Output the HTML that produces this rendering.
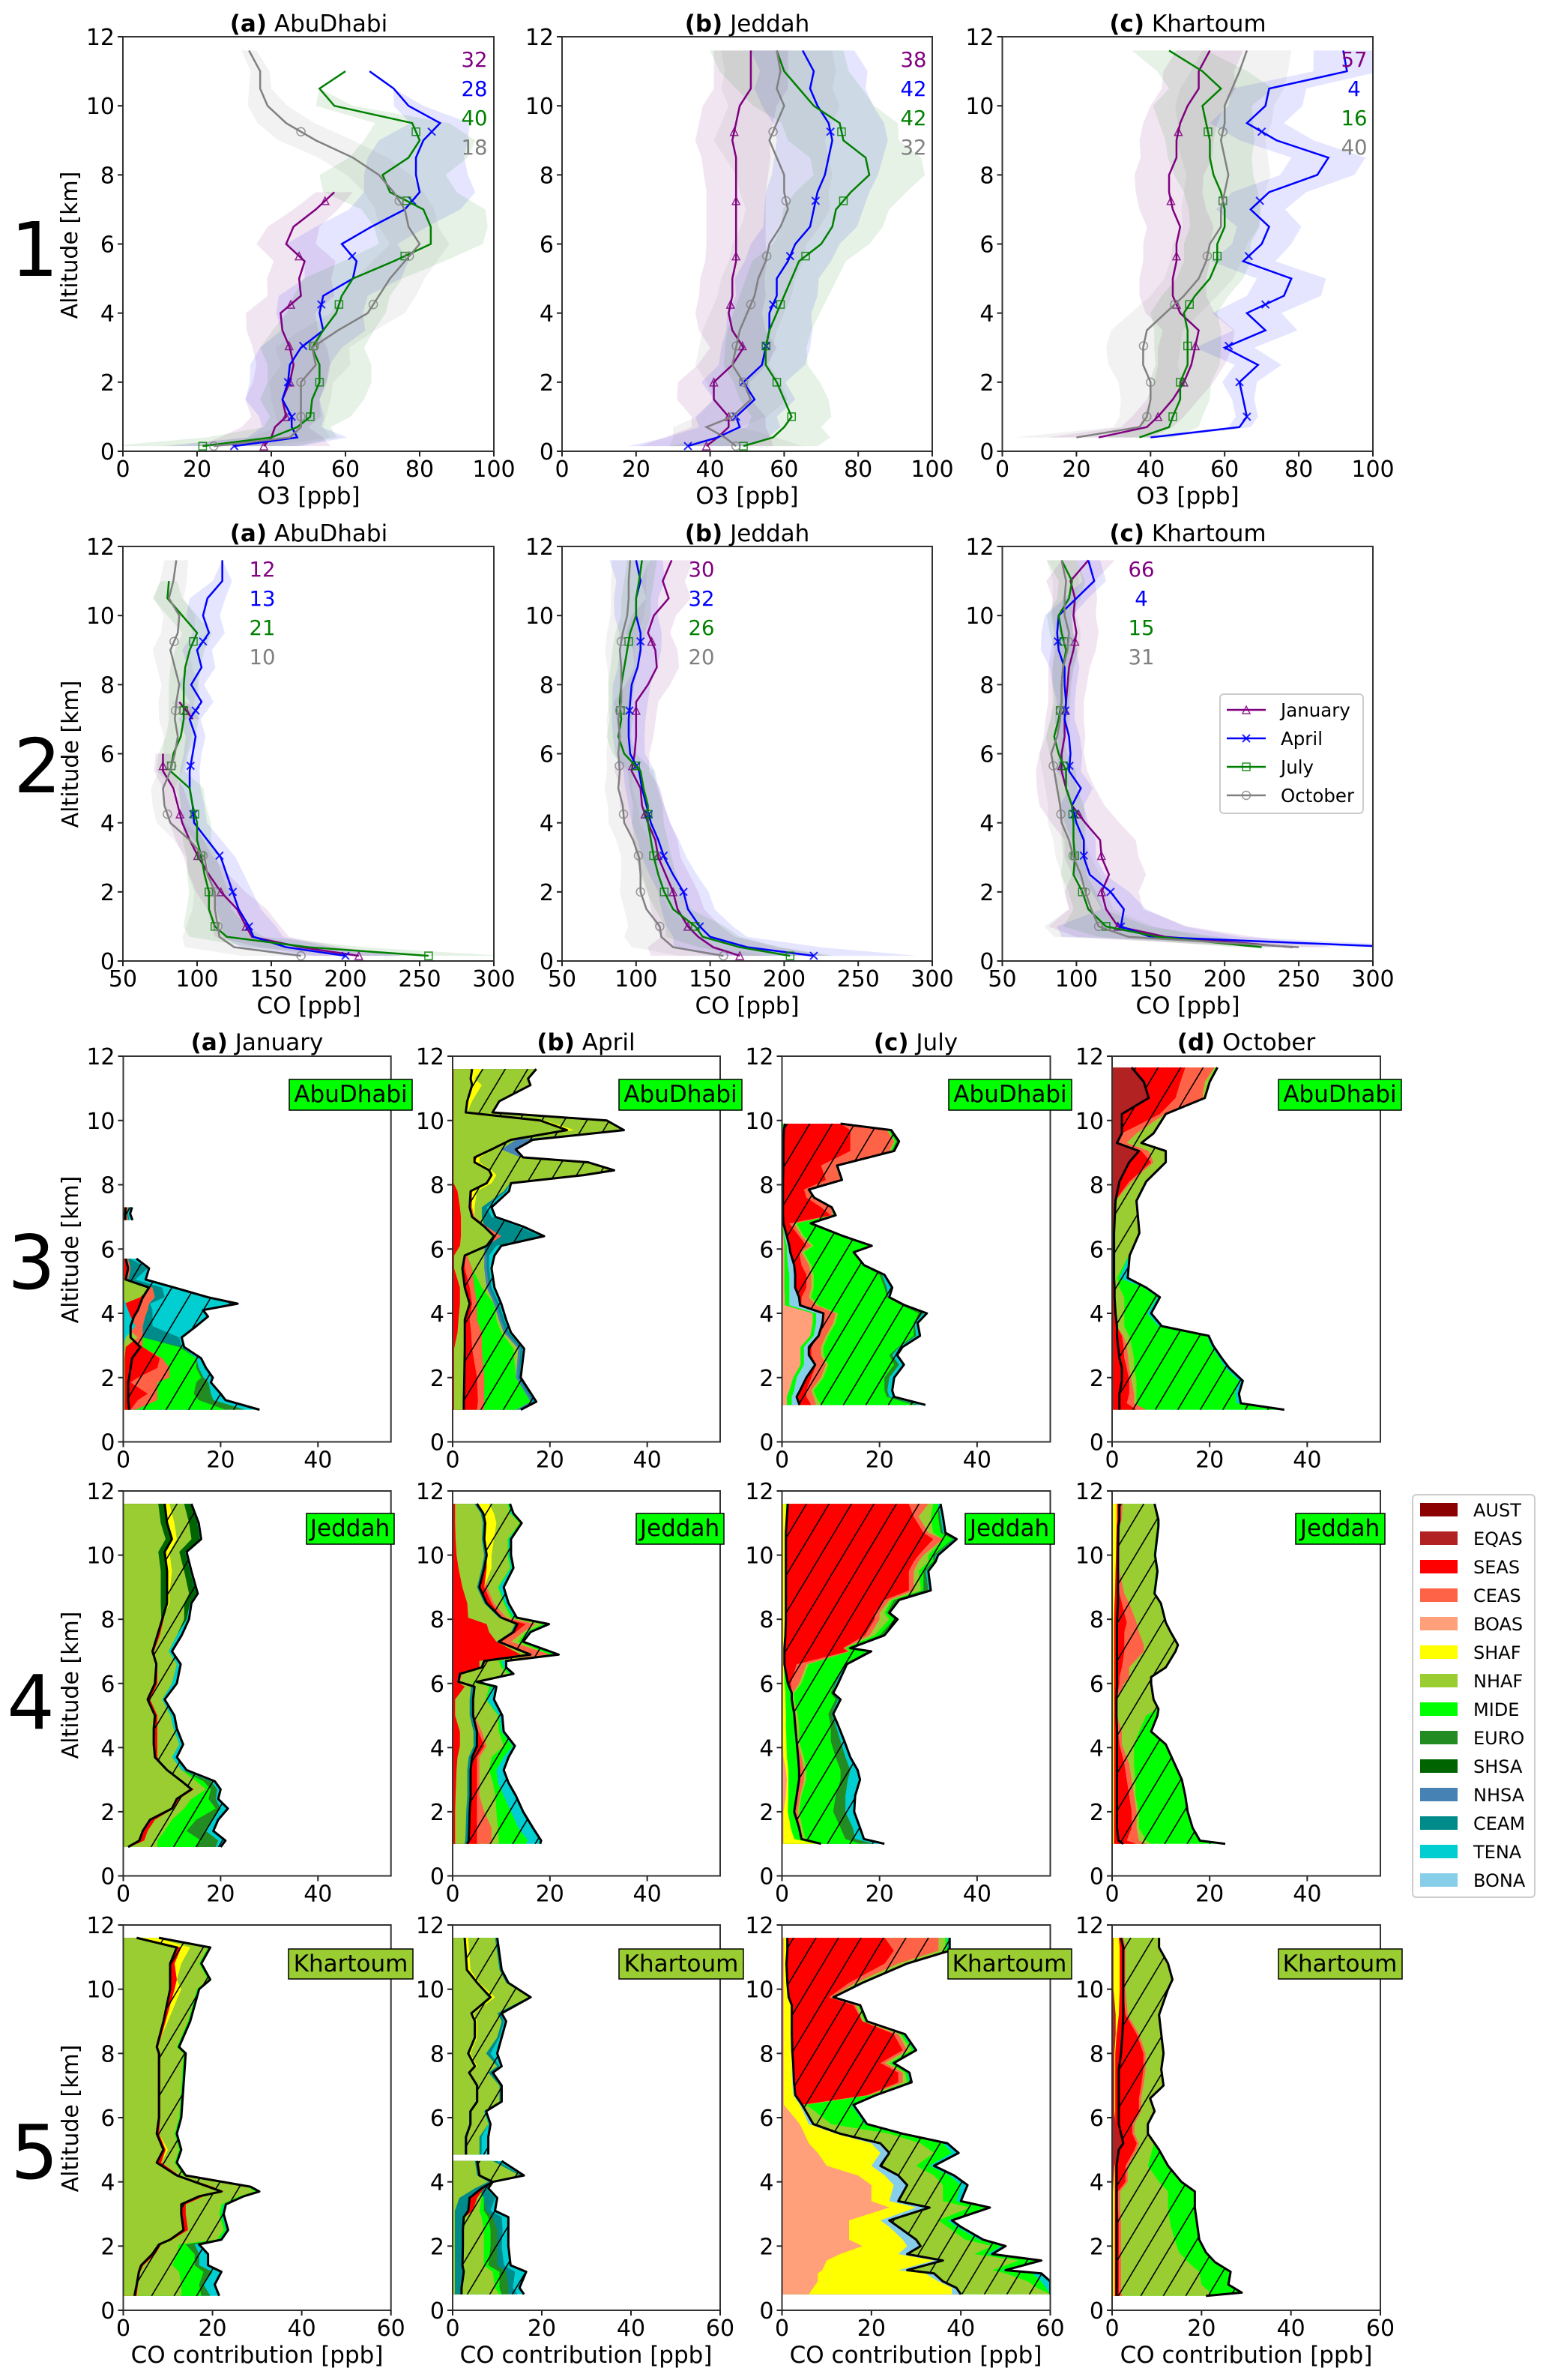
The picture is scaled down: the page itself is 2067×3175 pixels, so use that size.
<!DOCTYPE html>
<html lang="en">
<head>
<meta charset="utf-8">
<title>O3 and CO altitude profiles</title>
<style>
html,body{margin:0;padding:0;background:#fff;}
svg{display:block;}
text{font-family:"DejaVu Sans","Liberation Sans",sans-serif;fill:#000;}
.t{font-size:31px;text-anchor:middle;}
.tb{font-weight:bold;}
.big{font-size:100px;text-anchor:middle;}
.yl{font-size:30px;text-anchor:middle;}
.xl{font-size:31px;text-anchor:middle;}
.box{font-size:31px;text-anchor:middle;}
</style>
</head>
<body>
<svg id="chart" xmlns="http://www.w3.org/2000/svg" width="2067" height="3175" viewBox="0 0 2067 3175">
<defs>
<pattern id="hatch" patternUnits="userSpaceOnUse" width="30" height="50"><path d="M-6 60L36 -10M-36 60L6 -10M24 60L66 -10" stroke="#000" stroke-width="1.6" fill="none"/></pattern>
</defs>
<rect width="2067" height="3175" fill="#fff"/>
<g id="plots"></g>

<text class="big" x="46" y="368">1</text>
<text class="big" x="50" y="1057">2</text>
<text class="big" x="42" y="1719">3</text>
<text class="big" x="41" y="2306">4</text>
<text class="big" x="46" y="2906">5</text>

<text class="yl" transform="translate(103,327) rotate(-90)">Altitude [km]</text>
<text class="yl" transform="translate(104,1006) rotate(-90)">Altitude [km]</text>
<text class="yl" transform="translate(104,1667) rotate(-90)">Altitude [km]</text>
<text class="yl" transform="translate(104,2248) rotate(-90)">Altitude [km]</text>
<text class="yl" transform="translate(104,2826) rotate(-90)">Altitude [km]</text>

<text class="t" x="412" y="42"><tspan class="tb">(a)</tspan> AbuDhabi</text>
<text class="t" x="997" y="42"><tspan class="tb">(b)</tspan> Jeddah</text>
<text class="t" x="1585" y="42"><tspan class="tb">(c)</tspan> Khartoum</text>
<text class="t" x="412" y="722"><tspan class="tb">(a)</tspan> AbuDhabi</text>
<text class="t" x="997" y="722"><tspan class="tb">(b)</tspan> Jeddah</text>
<text class="t" x="1585" y="722"><tspan class="tb">(c)</tspan> Khartoum</text>
<text class="t" x="343" y="1401"><tspan class="tb">(a)</tspan> January</text>
<text class="t" x="782" y="1401"><tspan class="tb">(b)</tspan> April</text>
<text class="t" x="1222" y="1401"><tspan class="tb">(c)</tspan> July</text>
<text class="t" x="1663" y="1401"><tspan class="tb">(d)</tspan> October</text>

<text class="xl" x="412" y="672">O3 [ppb]</text>
<text class="xl" x="997" y="672">O3 [ppb]</text>
<text class="xl" x="1585" y="672">O3 [ppb]</text>
<text class="xl" x="412" y="1352">CO [ppb]</text>
<text class="xl" x="997" y="1352">CO [ppb]</text>
<text class="xl" x="1585" y="1352">CO [ppb]</text>
<text class="xl" x="343" y="3152">CO contribution [ppb]</text>
<text class="xl" x="782" y="3152">CO contribution [ppb]</text>
<text class="xl" x="1222" y="3152">CO contribution [ppb]</text>
<text class="xl" x="1663" y="3152">CO contribution [ppb]</text>

<g id="boxes">
<rect x="386" y="1440" width="164" height="41" fill="#00ff00" stroke="#000" stroke-width="1.5"/><text class="box" x="468" y="1470">AbuDhabi</text>
<rect x="826" y="1440" width="164" height="41" fill="#00ff00" stroke="#000" stroke-width="1.5"/><text class="box" x="908" y="1470">AbuDhabi</text>
<rect x="1266" y="1440" width="164" height="41" fill="#00ff00" stroke="#000" stroke-width="1.5"/><text class="box" x="1348" y="1470">AbuDhabi</text>
<rect x="1706" y="1440" width="164" height="41" fill="#00ff00" stroke="#000" stroke-width="1.5"/><text class="box" x="1788" y="1470">AbuDhabi</text>
<rect x="409" y="2019" width="117" height="41" fill="#00ff00" stroke="#000" stroke-width="1.5"/><text class="box" x="467" y="2049">Jeddah</text>
<rect x="849" y="2019" width="117" height="41" fill="#00ff00" stroke="#000" stroke-width="1.5"/><text class="box" x="907" y="2049">Jeddah</text>
<rect x="1288" y="2019" width="119" height="41" fill="#00ff00" stroke="#000" stroke-width="1.5"/><text class="box" x="1347" y="2049">Jeddah</text>
<rect x="1729" y="2019" width="119" height="41" fill="#00ff00" stroke="#000" stroke-width="1.5"/><text class="box" x="1788" y="2049">Jeddah</text>
<rect x="385" y="2600" width="166" height="40" fill="#9acd32" stroke="#000" stroke-width="1.5"/><text class="box" x="468" y="2630">Khartoum</text>
<rect x="826" y="2600" width="166" height="40" fill="#9acd32" stroke="#000" stroke-width="1.5"/><text class="box" x="909" y="2630">Khartoum</text>
<rect x="1265" y="2600" width="165" height="40" fill="#9acd32" stroke="#000" stroke-width="1.5"/><text class="box" x="1347" y="2630">Khartoum</text>
<rect x="1706" y="2600" width="165" height="40" fill="#9acd32" stroke="#000" stroke-width="1.5"/><text class="box" x="1788" y="2630">Khartoum</text>
</g>
<g id="legends"></g>
</svg>

<script>
// ---------- Line-profile data (value at each altitude level) ----------
const lineAlt=[.15,.4,.7,1,1.5,2,2.5,3,3.5,4,4.5,5,5.5,6,6.5,7,7.5,8,8.5,9,9.5,10,10.5,11,11.6];
const spreadAlt=[.15,.7,1.5,3,4.5,6,7.5,9,10.5,11.6];
const markerAlt=[.15,1,2,3.05,4.25,5.65,7.25,9.25];
const months=['January','April','July','October'];

const o3AbuJan=[38,40,41,44,43,45,46,45,43,42.5,48,47.5,49,44,46,52,57,null,null,null,null,null,null,null,null];
const o3AbuApr=[30,47,45.5,45.5,43,44.5,45,48,54,53,54,62,63,59,67,76,80,79,79,81,85.5,77,73,66.5,null];
const o3AbuJul=[21.5,40,47,50.5,51,53,53,51,54,57.5,59,62,73,83,83,81,72,70,77,80,78,57,53,60,null];
const o3AbuOct=[24.5,45,48,48,48,48,52,51,58,66,69,72,76,80,77,76,73,69,62,52,44,39,37,37,34];
const o3JedJan=[39,42,45,45,41,41,46,49,46,45,46,46,47,47,47,47,47,47,47,46,47,48,51,51,51];
const o3JedApr=[34,42,48,47,52,49,54,55,56,56,58,58,61,63,67,68,69,71,72,73,72,69,67,68,65];
const o3JedJul=[49,57,60,62,60,58,55,55,56,58,60,62,64,70,73,74,78,83,82,76,75,68,64,60,58];
const o3JedOct=[47,44,39,46,51,49,46,47,48,50,52,53,55,56,59,61,60,60,58,56,58,60,58,59,58];
const o3KhaJan=[null,26,39,42,46,49,51,52,53,48,46,46,47,47,48,46,45,45,47,47,48,50,53,53,56];
const o3KhaApr=[null,40,64,66,65,64,69,60,71,66,76,78,65,70,72,67,72,85,88,74,66,71,72,93,92];
const o3KhaJul=[null,37,45,46,48,48,50,50,50,49,52,56,58,58,60,60,59,57,56,56,55,54,59,54,45];
const o3KhaOct=[null,20,37,39,40,40,38,38,39,44,49,53,55,56,59,59,60,61,60,59,60,60,62,64,66];
const coAbuJan=[209,170,137,133,127,116,108,101,95,90,87,84,77,77,null,97,88,null,null,null,null,null,null,null,null];
const coAbuApr=[200,160,138,135,128,124,120,116,107,98,97,95,95,97,99,95,103,96,103,100,108,104,107,117,117];
const coAbuJul=[256,175,120,112,108,108,105,103,100,100,97,95,82,84,89,91,91,91,92,95,100,90,80,81,null];
const coAbuOct=[170,125,115,114,112,112,107,105,95,82,78,77,82,85,87,85,86,88,85,82,87,88,81,84,86];
const coJedJan=[170,152,142,135,128,125,120,115,113,108,104,103,97,99,100,100,100,108,114,113,108,112,122,118,124];
const coJedApr=[220,175,150,143,135,132,125,119,115,110,107,104,102,96,95,95,96,97,101,103,103,100,100,103,100];
const coJedJul=[204,170,145,140,125,119,115,112,110,108,108,105,103,92,88,90,89,90,92,94,96,100,100,102,104];
const coJedOct=[159,125,117,116,107,103,103,102,98,92,91,88,89,88,89,88,90,90,90,89,91,94,95,95,96];
const coKhaJan=[null,246,160,128,120,117,122,117,116,106,97,93,90,90,92,92,93,94,95,98,100,98,99,96,108];
const coKhaApr=[null,320,150,130,132,123,109,105,105,100,97,103,95,96,95,92,93,92,92,88,87,88,100,112,108];
const coKhaJul=[null,225,155,120,108,104,98,99,98,98,97,93,93,88,85,88,90,90,91,93,90,88,95,97,90];
const coKhaOct=[null,250,135,115,110,106,103,98,95,90,89,87,85,83,87,89,90,90,91,94,95,92,92,93,90];

// half-width of the shaded band at each spread level
const o3AbuJanSd=[18,9,10,10,9,8,5,0,0,0];
const o3AbuAprSd=[18,8,10,11,12,15,15,12,0,0];
const o3AbuJulSd=[25,9,14,14,13,14,18,15,0,0];
const o3AbuOctSd=[15,6,8,10,10,8,8,10,3,2];
const o3JedJanSd=[18,10,10,9,9,8,8,10,10,10];
const o3JedAprSd=[16,11,11,12,11,12,14,15,15,14];
const o3JedJulSd=[20,10,12,11,12,13,15,15,17,18];
const o3JedOctSd=[18,9,10,10,10,10,12,15,15,15];
const o3KhaJanSd=[20,7,7,10,9,9,9,10,10,9];
const o3KhaAprSd=[5,3,3,8,10,8,10,10,10,8];
const o3KhaJulSd=[10,8,8,9,9,9,10,12,14,10];
const o3KhaOctSd=[25,7,8,10,9,10,11,12,14,12];
const coAbuJanSd=[30,25,20,10,8,5,5,0,0,0];
const coAbuAprSd=[40,20,15,10,8,6,8,10,12,0];
const coAbuJulSd=[50,25,15,10,9,10,10,10,10,0];
const coAbuOctSd=[40,25,15,12,8,8,12,12,10,8];
const coJedJanSd=[60,25,18,15,15,10,15,15,15,15];
const coJedAprSd=[70,25,18,15,12,10,12,14,15,18];
const coJedJulSd=[30,25,12,12,10,8,8,10,10,10];
const coJedOctSd=[30,25,15,12,10,8,8,10,12,12];
const coKhaJanSd=[0,60,25,25,22,15,12,15,15,18];
const coKhaAprSd=[0,60,15,8,8,8,6,12,8,8];
const coKhaJulSd=[0,40,10,8,8,6,5,8,8,10];
const coKhaOctSd=[0,50,15,12,8,8,6,8,8,10];

// printed sample counts
const o3AbuCounts=[32,28,40,18];
const o3JedCounts=[38,42,42,32];
const o3KhaCounts=[57,4,16,40];
const coAbuCounts=[12,13,21,10];
const coJedCounts=[30,32,26,20];
const coKhaCounts=[66,4,15,31];

const o3Ticks=[0,20,40,60,80,100];
const coTicks=[50,100,150,200,250,300];
const altTicks=[0,2,4,6,8,10,12];
const contribTicks55=[0,20,40];
const contribTicks60=[0,20,40,60];

// ---------- Source regions (legend order) ----------
const sourceNames=['AUST','EQAS','SEAS','CEAS','BOAS','SHAF','NHAF','MIDE','EURO','SHSA','NHSA','CEAM','TENA','BONA'];
const sourceColors=['#8b0000','#b22222','#ff0000','#ff6347','#ffa07a','#ffff00','#9acd32','#00ff00','#228b22','#006400','#4682b4','#008b8b','#00ced1','#87ceeb'];

// ---------- Stacked contributions: cumulative right edge [ppb] ----------
const abuJanAlt=[1,1.3,1.5,1.85,2,2.3,2.6,2.95,3.25,3.6,3.9,4.1,4.3,4.5,4.8,5.05,5.4,5.7,5.8,6.9,7.1,7.3];
const abuJanTENA=[28,21,20,18,18.4,17,16,12.5,12,15,17.4,16.4,23.5,17.4,10.5,4.6,5.3,2.7,null,1.9,1.4,1.8];
const abuJanCEAM=[21,15.5,14.5,15,16,15,15,12,11.5,6,6,6,5.5,8.5,8,2.5,5,1.5,null,1.2,1,1.2];
const abuJanEURO=[25,18.5,18,17.5,16.5,15.5,15,12,4,4,4.5,5,5.3,6.5,6,1,1.5,1,null,1,.7,1];
const abuJanMIDE=[21,15.5,14.5,15,16,15,15,11.5,4,4,4.5,5,5.3,6.5,6,1,1.5,1,null,1,.7,1];
const abuJanCEAS=[2.5,7,7,7,9.5,9.5,8,4,4,4,4.5,5,5.3,6.5,6,1,1.5,1,null,1,.7,1];
const abuJanSEAS=[1.5,3,5,1.5,3,7,7.5,4,1.5,1.5,2.2,3,3.5,4,5.3,.5,1,.7,null,.5,.3,.5];
const abuJanNHAF=[.3,.3,.3,.3,.3,.3,.3,.5,3,.2,.2,.2,.2,3.5,5.5,.2,.2,.2,null,.2,.2,.2];
const abuJanTENA2=[0,0,0,0,0,0,0,0,.5,2.5,1.5,1,.5,0,0,0,0,0,null,0,0,0];
const abuJanLine=[1.2,1,1,1,1.2,1.5,1.8,3.5,1.5,1.5,2.2,3,3.5,4,5.3,.5,1,.5,null,.4,.4,.5];

const abuAprAlt=[1,1.25,2,2.9,3.4,3.8,4.3,4.8,5.4,5.8,6.1,6.4,6.7,7,7.3,7.8,8.05,8.3,8.45,8.7,8.85,9.1,9.4,9.7,10,10.25,10.6,11.1,11.3,11.6];
const abuAprTENA=[14,17.2,14,14.7,12,11,10,8.6,8,8.6,10,18.8,14.5,8.8,8,11.6,12,27,33.2,27.8,14.5,13,16.5,35.2,31.7,8.2,9.6,16,15.5,17.2];
const abuAprCEAM=[13.8,16.8,13.8,14.3,11.6,10.6,9.5,8,7.5,7.5,9,18,13.5,8,7,11,11.8,27,33,27.8,14.5,13,16.5,35,31.5,8,9.5,16,15.5,17.2];
const abuAprNHSA=[13.5,16.5,13.5,14,11,10,9,7.5,7,7,6.5,6.5,6.5,6,6,10.5,11.8,27,33,27.8,14.5,13,16.5,35,31.5,8,9.5,16,15.5,17.2];
const abuAprNHAF=[13,16,13,13.5,10.5,9.5,8.5,7,6.5,6.5,6.5,6.5,6.5,6,6,10.5,11.8,27,33,27.8,14,10,13,35,31.5,8,9.5,16,15.5,17.2];
const abuAprMIDE=[13,16,13,12.5,10,9,8.5,6,4,3,2.5,2.5,2.5,2.5,2.5,2.5,2.5,2.5,2.5,2.5,2.5,2.5,2.5,2.5,2.5,2.5,2.5,2.5,2.5,2.5];
const abuAprSHAF=[2.3,2.3,2.4,2.5,2.5,2.5,3.5,2.5,2,2.5,7,8.5,6.5,4.5,4.5,5,8,9,8,5.5,5.5,8.5,12.5,25,19,3,4,6,4.5,6];
const abuAprCEAS=[6.5,6.5,6.5,6,6,5,5,4.5,4,3,7,10,7,4.5,4,4,7,8,7.5,4.5,5,8,12,24,18,2.7,3,4,3.7,4];
const abuAprSEAS=[5,5.2,5,4,3.8,3.5,4,3.5,2.5,2.5,7,9,6.5,4,3.7,3.7,7,8,7.5,4.5,5,8,12,23.5,18,2.7,3,4,3.7,4];
const abuAprSEAS2=[.3,.3,.3,.3,1,1.2,1.5,1.5,.3,.3,1.5,1.7,1.7,1.7,1.5,1,.2,.2,.2,.2,.2,.2,.2,.2,.2,.2,.2,.2,.2,.2];
const abuAprLine=[2.3,2.3,2.4,2.5,2.5,2.5,3.5,2.5,2,2.5,7,8.5,6.5,4,3.5,3.7,7,8,7.5,4.5,4.5,8,12,23.5,18,2.7,3,4,3.7,4];

const abuJulAlt=[1.15,1.4,1.6,2,2.4,2.7,2.95,3.3,3.7,4,4.25,4.5,4.8,5.2,5.5,5.9,6.1,6.4,6.8,7.05,7.3,7.6,7.85,8.15,8.6,9.05,9.35,9.7,9.9];
const abuJulTENA=[29.4,23,22.6,23,25,23.6,24.7,28.3,27.8,29.7,25.2,22,22.6,21,16.8,14.7,18.4,12.6,5.9,11,10.2,6.6,5.5,12.3,11.3,23,24,22.4,12];
const abuJulEURO=[28,22,21.6,22,24,22.6,24,27.5,27.2,29,25,21.8,21.5,20.5,16.5,14.5,18,12.5,5.8,10.8,10,6.4,5.4,12.2,11.2,22.8,23.8,22.2,12];
const abuJulMIDE=[27,21.5,21,21,23,22,23.8,27,27,28,24.5,21.5,21,20,16.5,14.5,18,12.5,5.7,10.7,10,6.3,5.3,12,11,22.5,23.5,22,12];
const abuJulNHAF=[8,7,6.5,8.5,9.5,8.5,8.5,9.5,11,11.5,7.5,6,6.5,6.5,6,4.5,6.5,4.5,3,10.5,10.2,6.2,5.3,12,11,22.3,23.2,21.7,12];
const abuJulCEAS=[7,6.5,6,8,9,8,8,9,10.5,11,7,5.5,6,6,5.5,4,6,4,2.5,10.5,10,6.2,5.3,12,11,22,23,21.5,12];
const abuJulSEAS=[6,5,5,6,7,6,6,7,8,8.5,4,4,5,5,4,3.5,5,3.5,1.5,10,8,5,4.5,9,8,14,14,14,12];
const abuJulLine=[3.6,3,3.7,5,6.8,5.5,5.5,7.5,8.3,8.5,3.7,3.5,2.7,2.7,2.5,1.7,1.5,1,.3,.2,.2,.2,.2,.2,.3,.3,.3,.4,.6];
const abuJulMIDE2=[2,2,2.5,3,4.5,4.5,4.5,6.5,7,7,1.5,1.5,1.5,1.5,1.2,1,1,.5,.3,.1,.1,.1,.1,.1,.2,.2,.2,.3,.5];
const abuJulBOAS=[1,1,1.5,2.3,3.8,3.8,3.8,5.8,6.3,6.3,.6,.6,.5,.5,.5,.5,.5,.3,.2,.1,.1,.1,.1,.1,.1,.1,.1,.1,.1];

const abuOctAlt=[1,1.2,1.5,1.9,2.3,2.6,3,3.3,3.6,4,4.5,4.8,5.1,5.8,6.5,7.5,8.1,8.7,9.05,9.3,9.6,10.2,10.7,11.2,11.65];
const abuOctTENA=[35.3,26.4,26,26.8,24,22.5,20.7,19.8,10.2,8,9.8,7,3.2,3.6,5.6,5,7,11,11,6,8.5,11,19,20,21.6];
const abuOctMIDE=[34.5,25.5,25.2,26,23.2,22,20.2,19.5,9.5,7.2,9.3,6.5,1.5,3.5,5.5,4.9,6.9,10.9,10.9,5.9,8.4,10.9,18.9,19.9,21.5];
const abuOctNHAF=[5.5,5,5,5,4.5,4.5,4,3.5,2.5,2.5,2.5,1.5,1,3.4,5.4,4.8,6.8,10.8,10.8,5.8,8.3,10.8,18.8,19.8,21.2];
const abuOctCEAS=[7,4.5,4.5,4,3.5,3.3,3,2.3,1,.7,.5,.5,.4,.4,.4,.7,4,8.5,7.5,3,5,10.8,18.5,19,21];
const abuOctSEAS=[5,3,3.5,3.5,3,2.5,2.3,2,.9,.6,.4,.4,.3,.3,.3,.6,3.5,8,6,1,2,9.8,13,14,15];
const abuOctEQAS=[.3,.3,.3,.3,.3,.3,.3,.3,.3,.3,.2,.2,.2,.2,.2,.6,1.5,3.5,5,1,2,2,7,7,4];
const abuOctLine=[1.5,1.5,1.5,2,2,1.5,1.2,1,1,.7,.5,.5,.4,.4,.4,.7,1.5,3.5,5.5,1,2,2,7.5,6.5,4];

const jedJanAlt=[.9,1.1,1.4,1.75,2.1,2.4,2.7,2.95,3.3,3.7,4.1,4.6,5,5.5,6,6.6,7,7.5,8,8.5,8.8,9.5,10.1,10.5,11,11.6];
const jedJanTENA=[20,21,18.5,19.5,21.5,19.5,20,18.8,13,11,12.3,11,10.5,8.5,11,11.8,10,12,13.5,14,15.3,14,13,16,15.5,14];
const jedJanSHSA=[17,17,15,16,19,17.5,18,16.5,12,10,11.5,10.3,9.7,8,10,11,9.3,11,13,13.7,15,13.7,12.7,15.7,15.2,13.8];
const jedJanEURO=[19,19.5,17,18.5,20,19,19.3,18,12,10,11.5,10.3,9.7,8,10,11,9.3,11,12.5,12.5,13.5,12.5,11.5,14,13.5,12.5];
const jedJanMIDE=[15,16,13,15,19,17.5,18,16.5,12,10,11.5,10.3,9.7,8,10,11,9.3,11,12.5,12.5,13.5,12.5,11.5,14,13.5,12.5];
const jedJanNHAF=[7,7,8.5,10,12.5,14,17,15,12,10,11.5,10.3,9.7,8,10,11,9.3,11,12.5,12.5,13.5,12.5,11.5,14,13.5,12.5];
const jedJanSHAF=[1,3.3,4,5.5,10,11,14,12,9,6.5,6.3,6.3,6.5,5,6.5,6.8,6,7,8,9.5,9.5,10,9.5,11,10.5,9.5];
const jedJanSEAS=[1.3,4.3,5,6.5,10.3,11.5,14.5,12,9,7,7,7,7,5.5,7,7,6.3,7.5,8.3,9,9,9.2,8.7,10,9.2,8.7];
const jedJanLine=[1,3.3,4,5.5,10,11,14,12,9,6.5,6.3,6.3,6.5,5,6.5,6.8,6,7,8,9,9,9,8.5,10,9,8.5];
const jedJanNHAF2=[.9,3,3.8,5.3,9.8,10.8,13.8,11.8,8.8,6.3,6,6,6.3,4.8,6.3,6.6,5.8,6.8,7.8,7.7,7.7,7.7,7.2,8.7,7.7,7.2];

const jedAprAlt=[1,1.1,1.5,2,2.5,2.9,3.3,3.7,4.05,4.5,5,5.5,5.9,6.05,6.3,6.5,6.7,6.9,7.3,7.6,7.85,8.05,8.5,9,9.6,10,10.5,11,11.3,11.6];
const jedAprTENA=[18,18.2,16.5,14.5,13,11.5,10.5,11.5,12.8,10.5,10.2,8.5,9,5,12.5,11,11,21.8,14.5,16,19.8,13.2,11.5,10.5,12.5,12,12,14.2,12.5,11.8];
const jedAprMIDE=[15,15.5,13.5,12,10.5,9.3,9,10.5,12.3,10,9.5,7,8,4.5,12,10.5,10,21,14,15.5,19,12.5,10.8,9.5,12,11.5,11.5,14,12,11.5];
const jedAprNHAF=[9.5,9.5,9.3,9,8.8,8.3,7.5,8,10.5,9.5,9.3,6.8,7.5,4,11.5,10,9.5,20,13.5,15,18.5,12,10.5,9.3,11.8,11.3,11.3,13.8,11.8,11.3];
const jedAprSHAF=[3,3.3,3.4,3.5,3.7,3.7,3.7,4,5,5,4.2,4.2,4.5,1.2,1.5,6,6.5,16,9.5,12.5,13.3,10,7,6.5,8,8,8.5,9,8.5,7.5];
const jedAprCEAS=[8,8,8,6.5,5.5,5.5,5.5,5.5,7,6,4.5,4.3,4.7,1.5,2,6.2,7,20,12,14.5,17,11,8.5,7,7,7,6.7,6.9,6.5,5.2];
const jedAprSEAS=[5,5,5,5,5,5,5,5,6.5,5.3,4.2,4.2,4.5,1.2,1.5,6,6.5,16,10,13,15,10,8,6.5,7,7,6.5,6.7,6.3,5];
const jedAprLine=[3,3.3,3.4,3.5,3.7,3.7,3.7,4,5,5,4.2,4.2,4.5,1.2,1.5,6,6.5,16,9.5,12.5,13.3,10,7,5.5,6.5,7,6.5,6.7,6.3,5];
const jedAprNHAF2=[2.4,2.6,2.7,2.8,3,3,3,3.3,4.3,4.3,3.5,3.5,3.8,.9,1.2,5.7,6.2,15.5,9,12,12.8,9.5,6.5,5,6,6.5,6,6.2,5.8,4.5];
const jedAprSEAS2=[.5,.5,.5,.5,.6,.7,.8,1,1.5,1.5,.5,.5,2.5,.9,1.2,5.5,5.5,14,9,7.5,7,3.2,3,2,1.2,.8,.6,.5,.5,.5];

const jedJulAlt=[1,1.15,1.5,2,2.5,3,3.3,3.7,4.2,4.7,5.05,5.5,5.7,6,6.6,7,7.1,7.5,8,8.2,8.6,8.9,9.5,9.8,10,10.5,10.7,11.2,11.6];
const jedJulTENA=[21,16.8,16,14.8,15,16,15.5,14,12.8,11.5,10.5,12,10.5,11.5,13.3,18.3,14,21,23.7,22,24,30.5,30,31.5,32,35.8,33.5,33,32.5];
const jedJulEURO=[19,15,14.5,13,13,13.5,14,13,12,11,10.2,11.5,10.3,11,13,18,14,21,23.5,22,24,30,29.5,31.3,31.5,35.3,33,32.5,32];
const jedJulMIDE=[16,13,12,10.5,11,12,12,11,10,10,9.5,11,10,10.8,12.8,17.5,13.5,20,23,21.5,23,29,29,31,31,35,32.5,32,32];
const jedJulNHAF=[4.8,4.8,4.2,3.5,4,5,5,4.5,3.5,3.5,3.2,2.5,2.5,4,5.5,14,13,19,22,21,22.5,28.5,28,30,30,33,31,30.5,31];
const jedJulCEAS=[4.5,4.3,3.8,3.2,3.7,4.5,4.5,4,3.2,3,2.8,2.2,2.2,3.5,5,13.8,12.8,18,20,20,22,27,27,28,29,33,30,28,30];
const jedJulSEAS=[4,3.5,3.3,2.5,3,3.5,3.5,3.3,3,2.7,2.5,2,2,1.8,3,13.5,12.5,17,19,19,21,26,26,27,28,31,29,27,26];
const jedJulLine=[8,4,3.5,2.5,3,3.5,3.5,3.3,3,2.7,2.5,2,2,1.2,.5,.5,.5,.7,.8,.8,.8,.8,.8,.8,.8,.8,.8,1,1.2];
const jedJulSHAF=[7,2.5,1.8,1.2,1.3,1.3,1.3,1,.9,.8,.8,.7,.7,.5,.4,.3,.3,.5,.6,.6,.6,.6,.6,.6,.6,.7,.7,.8,.8];
const jedJulBOAS=[.3,.3,.3,.3,.8,1,.8,.3,.2,.2,.2,.2,.2,.2,.2,.2,.2,.2,.2,.2,.2,.2,.2,.2,.2,.2,.2,.2,.2];

const jedOctAlt=[1,1.1,1.5,2,2.5,3,3.5,4.1,4.5,5,5.2,5.5,6,6.2,6.5,7,7.2,7.6,7.9,8.5,8.8,9.5,10,10.9,11.1,11.6];
const jedOctMIDE=[23.2,18,16.5,15.5,15,14.3,12.8,11,8,9.3,9.5,8.5,8,8,11,13,13.5,12,11,10,8.7,9.3,8.8,9.5,9.5,8.7];
const jedOctNHAF=[8,7,5.5,5.5,4.8,4.8,4.5,4.5,5.5,7,9.2,8.3,7.8,7.8,10.8,12.8,13.3,11.8,10.8,9.7,8.4,9,8.5,9.2,9.2,8.5];
const jedOctCEAS=[7,5.5,5,5,4.5,4,3.5,2,2,1,1,1,2.5,3.5,3.5,6.5,6.5,5.5,5,3.5,2.5,1.5,1.5,1.5,2,2.2];
const jedOctSEAS=[5,3,4,4,3.5,3,2.5,1.5,1.2,.9,.9,.9,1.5,1.5,2,2.5,2.5,2.5,3,2,1.5,1.2,1.2,1.3,1.5,1.6];
const jedOctSHAF=[.4,.4,.4,.4,.4,.4,.4,.4,.4,.4,.4,.4,.4,.4,.4,.4,.4,.4,.4,.5,.6,.7,.8,.9,1,1];
const jedOctLine=[2.3,1.3,1,1,1,1,1,1,1,.9,.9,.9,1,1,1,1,1,1,1,1.2,1.2,1.2,1.2,1.3,1.5,1.5];

const khaJanAlt=[.45,.8,1.2,1.4,1.75,2.05,2.2,2.5,3,3.3,3.55,3.7,3.85,4.2,4.6,5,5.5,6,7,8,8.2,9,10,10.3,10.8,11.3,11.6];
const khaJanTENA=[21.5,20.5,22,19,19,17,22,23.5,22.5,23,27,30.5,28.5,14,12,13,12,13,13.5,14,12.5,15,17,19.5,17.5,19.5,8];
const khaJanEURO=[19.5,18,20,17,17,16,21.5,23,22,22.5,26.5,30,28,13.8,11.7,12.7,11.7,12.7,13.2,13.7,12.2,14.7,16.7,19.2,17.2,19.2,7.7];
const khaJanMIDE=[17.5,17,18,16,16,14,21.5,23,22,22.5,26.5,30,28,13.8,11.7,12.7,11.7,12.7,13.2,13.7,12.2,14.7,16.7,19.2,17.2,19.2,7.7];
const khaJanNHAF=[13,13,12.5,11,12,12.5,21,22.5,21.5,22,26,29.5,27.8,13.5,11.5,12.5,11.5,12.5,13,13.5,12,14.5,16.5,19,17,19,7.5];
const khaJanSHAF=[2.5,3,3.5,4,6.5,8,10.5,13.5,13,13,17,22,19,12,8.5,10,8,8,8,8,7.5,10,13,12,13,15,7.5];
const khaJanSEAS=[3,3.3,3.8,4.5,7.2,8.5,11,14.5,14,14,18,22.5,20,12.5,8.5,9.5,8,8.3,8.3,8.3,7.8,9.5,11.5,12,11.5,13,3.5];
const khaJanLine=[2.5,3,3.5,4,6.5,8,10.5,13.5,13,13,17,22,19,12,7.5,9,7.5,8,8,8,7.5,9,10.5,10.5,10.5,12,3];

const khaAprAlt=[.5,.7,1.2,1.4,2,2.5,2.9,3.1,3.5,3.8,4,4.2,4.65,4.75,4.85,5.4,5.8,6.2,6.5,7,7.4,7.6,8,8.5,9,9.25,9.75,10.2,10.6,11.6];
const khaAprTENA=[16,15,16.5,13,12.5,12.5,12.5,9.5,10,8,9,16,11,null,8,8,8.5,7.5,11,11,9,11,10,11,12,11,17.5,12.5,11,10];
const khaAprCEAM=[14.5,13.5,14,11.5,11,11.2,11,8.5,9.5,7.5,8.5,15.5,10,null,6.5,6.5,8,7,10.8,10.8,8.8,10.5,8.5,10.5,11.5,10.8,17.3,12.3,10.8,9.7];
const khaAprEURO=[12.5,12.5,12,10,10,10,9,7.5,7,6,8.5,15,9,null,6,6,8,7,10.5,10.5,8,10,7.5,10,11,10,17,12,10.5,9.5];
const khaAprMIDE=[11,10.5,10.5,8,8.5,8.5,8,7,7,6,8.5,15,9,null,6,6,8,7,10.5,10.5,8,10,7.5,10,11,10,17,12,10.5,9.5];
const khaAprNHAF=[10.5,9.5,9,7,7,7,6.5,6,6.5,6,8.5,15,9,null,6,6,8,7,10.5,10.5,8,10,7.5,10,11,10,17,12,10.5,9.5];
const khaAprSHAF=[2,2,2.5,2.2,2.3,2.3,2.5,3.5,3.8,6.5,9,6,5.5,null,3,3,4,4,5.5,5.5,3.7,5.5,4,5.5,5.5,4.7,9.5,6,4,3.5];
const khaAprSEAS=[2.2,2.2,2.7,2.4,2.5,2.5,2.7,4.5,5.5,7,9.2,6.3,5.8,null,3,3,4,4,5.5,5.5,3.7,5,3.5,5,5,4.2,8.5,5.5,3.2,2.7];
const khaAprLine=[2,2,2.5,2.2,2.3,2.3,2.5,3.5,3.8,6.5,9,6,5.5,null,3,3,4,4,5.5,5.5,3.7,5,3.5,5,5,4.2,8.5,5.5,3.2,2.7];
const khaAprNHAF2=[.5,.5,.5,.5,.5,.5,.5,.5,1.5,5,8,5.5,5,null,2.7,2.7,3.7,3.7,5.2,5.2,3.5,4.7,3.2,4.7,4.7,4,8,5.2,3,2.5];

const khaJulAlt=[.5,.7,.9,1.15,1.25,1.55,1.75,2,2.2,2.6,2.8,3.2,3.4,3.9,4.2,4.5,4.9,5.2,5.5,5.8,6.4,6.7,7.1,7.4,7.7,8.1,8.6,9,9.5,9.75,10.2,10.8,11.2,11.6];
const khaJulTENA=[60,60,60,58,50,58,47,50,45,40,38,46.5,40,41.5,38.5,34,39.5,37,27,19,16,21,29,28.5,25,30,27.5,19,17.5,11.5,18,28,37.5,37.5];
const khaJulMIDE=[60,59,58,56,49,57,46,49,44,39,37,46,39,40,37.5,33,38,36,26.5,18.5,15.5,20.5,28.5,28,24.5,29.5,27,18.8,17.3,11.3,17.8,27.8,37,37];
const khaJulNHAF=[60,57,55,50,47,53,43,47,41,37,35,42,36,36,34,30,34,31,24,11,5.5,20,28,27.5,24,29,26.5,18.5,17,11,17.5,27.5,36.5,36.5];
const khaJulCEAS=[40,39,36,34,28,36,28,31,30,26,24,33,26,28,26,22,24,22,13,7,4.5,19.5,27,27,23,28,26,18,16.5,11,16.5,26,35,35];
const khaJulSEAS=[40,39,36,34,28,36,28,31,30,26,24,33,26,28,26,22,24,22,13,7,4.5,19,26,26,22,27,25,18,16,10.5,15,23,25,23];
const khaJulLine=[40,39,36,34,28,36,28,31,30,26,24,33,26,28,26,22,24,22,13,7,4.5,3,2.7,2.6,2.5,2.3,2.2,2.2,2.2,1.5,1.2,1,1.2,1.2];
const khaJulBONA=[39,38.5,35.5,33,27,35,27,30,29,25,23,32,25,27,25,21,23,21,12.5,6.5,4.2,2.8,2.5,2.4,2.3,2.1,2,2,2,1.3,1,.9,1,1];
const khaJulSHAF=[38,38,35,32,26,34,26,28,27,24,22,30,24,25,23,20,22,20,12,6,4,2.5,2.3,2.2,2.2,2,2,2,2,1.2,1,.8,1,1];
const khaJulBOAS=[6,7,8,8,9,10,13,18,15,15,15,24,20,20,17,10,8,6,5,4,.4,.4,.4,.4,.4,.4,.4,.4,.4,.4,.4,.4,.4,.4];

const khaOctAlt=[.45,.55,.8,1.2,1.5,1.8,2.2,2.7,3.2,3.7,4,4.5,5,5.2,5.5,5.8,6.2,6.6,7,7.5,8,8.6,9.2,10,10.3,10.8,11.3,11.6];
const khaOctMIDE=[21,29,26,26.5,23,21,19.5,19,18.5,18.5,15.5,12.5,10.5,9.5,8,8,9.5,8.5,11.5,11,11.5,11,10.5,12.5,13.5,12.5,10.5,10.5];
const khaOctNHAF=[21,22,20,19.5,17,15,14,13,12.5,12.5,10.5,8,9,9.3,7.8,7.8,9.3,8.3,11.3,10.8,11.3,10.8,10.3,12.3,13.3,12.3,10.3,10.3];
const khaOctCEAS=[2.3,2,2,2,2,2,2,2,1.8,1.8,3.5,3.5,5.5,6,5,5,6.5,6.5,7,7.5,7.5,6,3.5,3,3,3,3,2.5];
const khaOctSEAS=[1.8,1.5,1.5,1.5,1.5,1.5,1.5,1.5,1.3,1.3,3,3,5,5.5,4.5,4.5,6,6,6.5,7,7,5.5,3,2.5,2.5,2.5,2.5,2];
const khaOctSHAF=[.6,.6,.6,.6,.6,.6,.6,.6,.6,.6,.6,.6,.7,.7,.7,.7,.7,.7,.7,.7,.7,1,1.5,1.7,1.7,1.7,1.7,1.5];
const khaOctEQAS=[.2,.2,.2,.2,.2,.2,.2,.2,.2,.2,.3,.5,1.5,2,1.5,.8,.5,.5,.5,.5,.5,.8,.8,.3,.3,.3,.3,.3];
const khaOctLine=[1,1,1,1,1,1,1,1,1,1,1,1,1.5,2.5,2,1.5,1.5,1.5,1.5,1.5,2,2.3,2.5,2.5,2.5,2.5,2.5,2];

// ---------- Drawing ----------
const NS='http://www.w3.org/2000/svg';
const plots=document.getElementById('plots');
const legends=document.getElementById('legends');
const monthColors=['#800080','#0000ff','#008000','#808080'];
function mk(parent,tag,props,txt){
  const el=document.createElementNS(NS,tag);
  for(const k in props) el.setAttribute(k,props[k]);
  if(txt!==undefined) el.textContent=txt;
  parent.appendChild(el);
  return el;
}
function makeAxes(box,xMin,xMax){
  const ax={l:box[0],r:box[1],t:box[2],b:box[3]};
  ax.x=v=>ax.l+(v-xMin)/(xMax-xMin)*(ax.r-ax.l);
  ax.y=a=>ax.b-a/12*(ax.b-ax.t);
  return ax;
}
let clipCount=0;
function clipFor(ax){
  clipCount++;
  const defs=document.querySelector('defs');
  const c=mk(defs,'clipPath',{id:'clip'+clipCount});
  mk(c,'rect',{x:ax.l,y:ax.t,width:ax.r-ax.l,height:ax.b-ax.t});
  return 'url(#clip'+clipCount+')';
}
function drawFrame(ax,xTicks,name){
  const g=mk(plots,'g',{});
  
  
  const frame=mk(g,'rect',{x:ax.l,y:ax.t,width:ax.r-ax.l,height:ax.b-ax.t,fill:'none',stroke:'#333','stroke-width':2});
  
  
  xTicks.forEach(v=>{
    const tick=mk(g,'line',{x1:ax.x(v),x2:ax.x(v),y1:ax.b,y2:ax.b+7,stroke:'#222','stroke-width':2});
    
    
    const lab=mk(g,'text',{x:ax.x(v),y:ax.b+34,'text-anchor':'middle','font-size':30},String(v));
    
    
  });
  altTicks.forEach(a=>{
    const tick=mk(g,'line',{x1:ax.l-7,x2:ax.l,y1:ax.y(a),y2:ax.y(a),stroke:'#222','stroke-width':2});
    
    
    const lab=mk(g,'text',{x:ax.l-11,y:ax.y(a)+11,'text-anchor':'end','font-size':30},String(a));
    
    
  });
}
function runs(alt,vals){
  const out=[];let cur=[];
  alt.forEach((a,i)=>{
    const v=vals[i];
    if(v===null||v===undefined){ if(cur.length) out.push(cur); cur=[]; }
    else cur.push([a,v]);
  });
  if(cur.length) out.push(cur);
  return out;
}
function interp(xs,ys,a){
  if(a<=xs[0]) return ys[0];
  for(let i=1;i<xs.length;i++){
    if(a<=xs[i]){
      if(ys[i-1]===null||ys[i]===null||ys[i-1]===undefined||ys[i]===undefined) return null;
      const t=(a-xs[i-1])/(xs[i]-xs[i-1]);
      return ys[i-1]+t*(ys[i]-ys[i-1]);
    }
  }
  return null;
}
function drawMarker(g,kind,px,py,color){
  const r=5;
  let d;
  if(kind===0) d=`M${px-r} ${py+r}L${px+r} ${py+r}L${px} ${py-r}Z`;
  if(kind===1) d=`M${px-r} ${py-r}L${px+r} ${py+r}M${px-r} ${py+r}L${px+r} ${py-r}`;
  if(kind===2) d=`M${px-r} ${py-r}H${px+r}V${py+r}H${px-r}Z`;
  if(kind===3){
    const c=mk(g,'circle',{cx:px,cy:py,r:r+.5,fill:'none',stroke:color,'stroke-width':1.5,opacity:.8});
    
    
    return;
  }
  const p=mk(g,'path',{d:d,fill:'none',stroke:color,'stroke-width':kind===1?2:1.5,opacity:.85});
  
  
}
function drawLinePanel(box,xMin,xMax,xTicks,series,spreads,counts,countX,name){
  const ax=makeAxes(box,xMin,xMax);
  const g=mk(plots,'g',{'clip-path':clipFor(ax)});
  
  
  series.forEach((vals,s)=>{
    runs(lineAlt,vals).forEach(run=>{
      const right=run.map(([a,v])=>ax.x(v+interp(spreadAlt,spreads[s],a)*1)+','+ax.y(a));
      const left=run.slice().reverse().map(([a,v])=>ax.x(v-interp(spreadAlt,spreads[s],a)*1)+','+ax.y(a));
      const band=mk(g,'polygon',{points:right.concat(left).join(' '),fill:monthColors[s],'fill-opacity':.1});
      
      
    });
  });
  series.forEach((vals,s)=>{
    runs(lineAlt,vals).forEach(run=>{
      const line=mk(g,'polyline',{points:run.map(([a,v])=>ax.x(v)+','+ax.y(a)).join(' '),fill:'none',stroke:monthColors[s],'stroke-width':2.5});
      
      
    });
    markerAlt.forEach(a=>{
      const v=interp(lineAlt,vals,a);
      if(v===null||vals[0]===null&&a<.4) return;
      drawMarker(g,s,ax.x(v),ax.y(a),monthColors[s]);
    });
  });
  drawFrame(ax,xTicks,name);
  const ys=[box[2]+40,box[2]+79,box[2]+118,box[2]+157];
  counts.forEach((c,s)=>{
    const t=mk(plots,'text',{x:countX,y:ys[s],'text-anchor':'middle','font-size':27.5,style:'fill:'+monthColors[s]},String(c));
    
    
  });
}
function drawStackPanel(box,xMax,xTicks,alt,layers,lineVals,name){
  const ax=makeAxes(box,0,xMax);
  const g=mk(plots,'g',{'clip-path':clipFor(ax)});
  
  
  layers.forEach(([src,vals])=>{
    const color=sourceColors[sourceNames.indexOf(src)];
    runs(alt,vals).forEach(run=>{
      const pts=run.map(([a,v])=>ax.x(v)+','+ax.y(a));
      pts.push(ax.x(0)+','+ax.y(run[run.length-1][0]));
      pts.push(ax.x(0)+','+ax.y(run[0][0]));
      const poly=mk(g,'polygon',{points:pts.join(' '),fill:color});
      
      
    });
  });
  const totalVals=layers[0][1];
  const totalRuns=runs(alt,totalVals);
  const lineRuns=runs(alt,lineVals);
  totalRuns.forEach((run,i)=>{
    const lr=lineRuns[i]||[];
    const pts=run.map(([a,v])=>ax.x(v)+','+ax.y(a)).concat(lr.slice().reverse().map(([a,v])=>ax.x(v)+','+ax.y(a)));
    const h=mk(g,'polygon',{points:pts.join(' '),fill:'url(#hatch)'});
    
    
  });
  [totalRuns,lineRuns].forEach(rs=>rs.forEach(run=>{
    const l=mk(g,'polyline',{points:run.map(([a,v])=>ax.x(v)+','+ax.y(a)).join(' '),fill:'none',stroke:'#000','stroke-width':3,'stroke-linejoin':'round'});
    
    
  }));
  drawFrame(ax,xTicks,name);
}

const r1=[49,602], r2=[729,1282];
const lc=[[164,659],[750,1244],[1337.5,1832]];
function lb(c,r){return [lc[c][0],lc[c][1],r[0],r[1]];}
drawLinePanel(lb(0,r1),0,100,o3Ticks,[o3AbuJan,o3AbuApr,o3AbuJul,o3AbuOct],[o3AbuJanSd,o3AbuAprSd,o3AbuJulSd,o3AbuOctSd],o3AbuCounts,633,'o3-abudhabi');
drawLinePanel(lb(1,r1),0,100,o3Ticks,[o3JedJan,o3JedApr,o3JedJul,o3JedOct],[o3JedJanSd,o3JedAprSd,o3JedJulSd,o3JedOctSd],o3JedCounts,1219,'o3-jeddah');
drawLinePanel(lb(2,r1),0,100,o3Ticks,[o3KhaJan,o3KhaApr,o3KhaJul,o3KhaOct],[o3KhaJanSd,o3KhaAprSd,o3KhaJulSd,o3KhaOctSd],o3KhaCounts,1807,'o3-khartoum');
drawLinePanel(lb(0,r2),50,300,coTicks,[coAbuJan,coAbuApr,coAbuJul,coAbuOct],[coAbuJanSd,coAbuAprSd,coAbuJulSd,coAbuOctSd],coAbuCounts,350,'co-abudhabi');
drawLinePanel(lb(1,r2),50,300,coTicks,[coJedJan,coJedApr,coJedJul,coJedOct],[coJedJanSd,coJedAprSd,coJedJulSd,coJedOctSd],coJedCounts,936,'co-jeddah');
drawLinePanel(lb(2,r2),50,300,coTicks,[coKhaJan,coKhaApr,coKhaJul,coKhaOct],[coKhaJanSd,coKhaAprSd,coKhaJulSd,coKhaOctSd],coKhaCounts,1523,'co-khartoum');

const sc=[[164.5,521.7],[604,961],[1043.5,1401.5],[1484,1842]];
const sr=[[1409,1923.5],[1989,2502.5],[2568,3082]];
function sb(c,r){return [sc[c][0],sc[c][1],sr[r][0],sr[r][1]];}
drawStackPanel(sb(0,0),55,contribTicks55,abuJanAlt,[['TENA',abuJanTENA],['CEAM',abuJanCEAM],['EURO',abuJanEURO],['MIDE',abuJanMIDE],['CEAS',abuJanCEAS],['SEAS',abuJanSEAS],['NHAF',abuJanNHAF],['TENA',abuJanTENA2]],abuJanLine,'abudhabi-january');
drawStackPanel(sb(1,0),55,contribTicks55,abuAprAlt,[['TENA',abuAprTENA],['CEAM',abuAprCEAM],['NHSA',abuAprNHSA],['NHAF',abuAprNHAF],['MIDE',abuAprMIDE],['SHAF',abuAprSHAF],['CEAS',abuAprCEAS],['SEAS',abuAprSEAS],['NHAF',abuAprLine],['SEAS',abuAprSEAS2]],abuAprLine,'abudhabi-april');
drawStackPanel(sb(2,0),55,contribTicks55,abuJulAlt,[['TENA',abuJulTENA],['EURO',abuJulEURO],['MIDE',abuJulMIDE],['NHAF',abuJulNHAF],['CEAS',abuJulCEAS],['SEAS',abuJulSEAS],['BONA',abuJulLine],['MIDE',abuJulMIDE2],['BOAS',abuJulBOAS]],abuJulLine,'abudhabi-july');
drawStackPanel(sb(3,0),55,contribTicks55,abuOctAlt,[['TENA',abuOctTENA],['MIDE',abuOctMIDE],['NHAF',abuOctNHAF],['CEAS',abuOctCEAS],['SEAS',abuOctSEAS],['EQAS',abuOctEQAS]],abuOctLine,'abudhabi-october');
drawStackPanel(sb(0,1),55,contribTicks55,jedJanAlt,[['TENA',jedJanTENA],['SHSA',jedJanSHSA],['EURO',jedJanEURO],['MIDE',jedJanMIDE],['NHAF',jedJanNHAF],['SHAF',jedJanSHAF],['SEAS',jedJanSEAS],['SHSA',jedJanLine],['NHAF',jedJanNHAF2]],jedJanLine,'jeddah-january');
drawStackPanel(sb(1,1),55,contribTicks55,jedAprAlt,[['TENA',jedAprTENA],['MIDE',jedAprMIDE],['NHAF',jedAprNHAF],['CEAS',jedAprCEAS],['SHAF',jedAprSHAF],['SEAS',jedAprSEAS],['CEAM',jedAprLine],['NHAF',jedAprNHAF2],['SEAS',jedAprSEAS2]],jedAprLine,'jeddah-april');
drawStackPanel(sb(2,1),55,contribTicks55,jedJulAlt,[['TENA',jedJulTENA],['EURO',jedJulEURO],['MIDE',jedJulMIDE],['NHAF',jedJulNHAF],['CEAS',jedJulCEAS],['SEAS',jedJulSEAS],['MIDE',jedJulLine],['SHAF',jedJulSHAF],['BOAS',jedJulBOAS]],jedJulLine,'jeddah-july');
drawStackPanel(sb(3,1),55,contribTicks55,jedOctAlt,[['MIDE',jedOctMIDE],['NHAF',jedOctNHAF],['CEAS',jedOctCEAS],['SEAS',jedOctSEAS],['SHAF',jedOctSHAF]],jedOctLine,'jeddah-october');
drawStackPanel(sb(0,2),60,contribTicks60,khaJanAlt,[['TENA',khaJanTENA],['EURO',khaJanEURO],['MIDE',khaJanMIDE],['NHAF',khaJanNHAF],['SHAF',khaJanSHAF],['SEAS',khaJanSEAS],['NHAF',khaJanLine]],khaJanLine,'khartoum-january');
drawStackPanel(sb(1,2),60,contribTicks60,khaAprAlt,[['TENA',khaAprTENA],['CEAM',khaAprCEAM],['EURO',khaAprEURO],['MIDE',khaAprMIDE],['NHAF',khaAprNHAF],['SHAF',khaAprSHAF],['SEAS',khaAprSEAS],['CEAM',khaAprLine],['NHAF',khaAprNHAF2]],khaAprLine,'khartoum-april');
drawStackPanel(sb(2,2),60,contribTicks60,khaJulAlt,[['TENA',khaJulTENA],['MIDE',khaJulMIDE],['NHAF',khaJulNHAF],['CEAS',khaJulCEAS],['SEAS',khaJulSEAS],['BONA',khaJulLine],['BONA',khaJulBONA],['SHAF',khaJulSHAF],['BOAS',khaJulBOAS]],khaJulLine,'khartoum-july');
drawStackPanel(sb(3,2),60,contribTicks60,khaOctAlt,[['MIDE',khaOctMIDE],['NHAF',khaOctNHAF],['CEAS',khaOctCEAS],['SEAS',khaOctSEAS],['SHAF',khaOctSHAF],['EQAS',khaOctEQAS]],khaOctLine,'khartoum-october');

// month legend
const monthBox=mk(legends,'rect',{x:1628,y:926,width:191,height:159,rx:5,fill:'#fff','fill-opacity':.8,stroke:'#ccc','stroke-width':2});


months.forEach((m,s)=>{
  const y=947+s*38;
  const sw=mk(legends,'line',{x1:1637,x2:1689,y1:y,y2:y,stroke:monthColors[s],'stroke-width':2.5});
  
  
  drawMarker(legends,s,1663,y,monthColors[s]);
  const t=mk(legends,'text',{x:1709,y:y+9,'font-size':24.5},m);
  
  
});
// source legend
const srcBox=mk(legends,'rect',{x:1885,y:1994,width:163,height:537,rx:5,fill:'#fff',stroke:'#ccc','stroke-width':2});


sourceNames.forEach((n,i)=>{
  const y=2005+i*38;
  const p=mk(legends,'rect',{x:1895,y:y,width:50,height:18,fill:sourceColors[i]});
  
  
  const t=mk(legends,'text',{x:1966,y:y+18,'font-size':24},n);
  
  
});
</script>
</body>
</html>
